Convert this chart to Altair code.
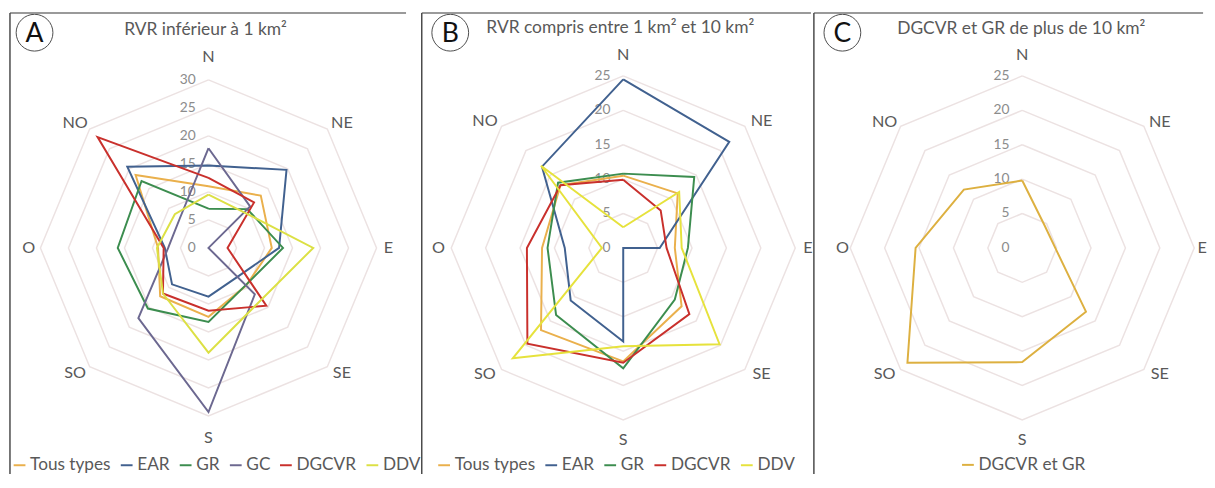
import altair as alt
import pandas as pd

DIRECTIONS = ["N", "NE", "E", "SE", "S", "SO", "O", "NO"]

# ---- Panel A : RVR inférieur à 1 km² ----
A_SERIES = ["Tous types", "EAR", "GR", "GC", "DGCVR", "DDV"]
A_TOUS_TYPES = [11, 13.2, 11.3, 9.5, 12.3, 12.2, 9, 18.4]
A_EAR = [14.7, 19.7, 12.6, 7.3, 8.7, 9.2, 7.8, 20.5]
A_GR = [7, 9.8, 13.3, 9.4, 13.2, 15.3, 16.2, 16.9]
A_GC = [17.8, 10.5, 0, 11.7, 29.3, 17.7, 7.2, 7.3]
A_DGCVR = [12.5, 11.5, 3.4, 14.6, 11.2, 11.5, 8, 28]
A_DDV = [9.5, 9, 18.7, 13.2, 18.7, 11.5, 9.2, 8.5]
A_COLORS = ["#EAB04C", "#41618F", "#3C8D4F", "#6C6890", "#C9302C", "#DCE044"]
A_TICKS = [0, 5, 10, 15, 20, 25, 30]

# ---- Panel B : RVR compris entre 1 km² et 10 km² ----
B_SERIES = ["Tous types", "EAR", "GR", "DGCVR", "DDV"]
B_TOUS_TYPES = [10.5, 11.2, 7.5, 12, 16.5, 16.9, 11.8, 12.9]
B_EAR = [24.5, 21.8, 5.3, 0, 13.6, 10.8, 8.5, 16.7]
B_GR = [10.8, 14.6, 9.4, 10.6, 17.5, 13.8, 11, 13.4]
B_DGCVR = [9.9, 7.7, 6.3, 13.6, 16.7, 19.7, 14, 12.9]
B_DDV = [3, 11.5, 8.5, 19.8, 14.3, 22.7, 3.1, 16.9]
B_COLORS = ["#EAB04C", "#41618F", "#3C8D4F", "#C9302C", "#E6E23C"]
B_TICKS = [0, 5, 10, 15, 20, 25]

# ---- Panel C : DGCVR et GR de plus de 10 km² ----
C_SERIES = ["DGCVR et GR"]
C_DGCVR_GR = [9.8, 4.6, 4.8, 13.1, 16.6, 23.6, 15.5, 12]
C_COLORS = ["#DDB040"]
C_TICKS = [0, 5, 10, 15, 20, 25]

FONT = "Lato"
GRID = "#ECE2E2"
TEXT = "#595959"
H = 469


def radar_panel(names, values, colors, ticks, k, W, cx, cy, lab_r,
                title, title_x, title_y, letter, badge_x, badge_y,
                legend_x, legend_y):
    rows = []
    for name, vals in zip(names, values):
        for i in range(9):
            rows.append({"series": name, "idx": i, "value": vals[i % 8]})
    df = pd.DataFrame(rows)
    grid = pd.DataFrame([{"level": lv, "idx": i}
                         for lv in ticks if lv > 0 for i in range(9)])
    dirs = pd.DataFrame({"dir": DIRECTIONS, "idx": list(range(8))})
    tick_df = pd.DataFrame({"level": ticks})

    xs = alt.Scale(domain=[-cx / k, (W - cx) / k], nice=False, zero=False)
    ys = alt.Scale(domain=[-(H - cy) / k, cy / k], nice=False, zero=False)
    ang = "datum.idx * PI / 4"

    grid_layer = alt.Chart(grid).transform_calculate(
        gx=f"datum.level * sin({ang})", gy=f"datum.level * cos({ang})"
    ).mark_line(color=GRID, strokeWidth=1.5).encode(
        x=alt.X("gx:Q", scale=xs, axis=None),
        y=alt.Y("gy:Q", scale=ys, axis=None),
        detail="level:N", order="idx:Q")

    tick_layer = alt.Chart(tick_df).transform_calculate(zero="0").mark_text(
        align="right", baseline="middle", dx=-13, font=FONT, fontSize=14,
        color="#8C8C8C").encode(
        x=alt.X("zero:Q", scale=xs, axis=None),
        y=alt.Y("level:Q", scale=ys, axis=None),
        text="level:Q")

    line_layer = alt.Chart(df).transform_calculate(
        px=f"datum.value * sin({ang})", py=f"datum.value * cos({ang})"
    ).mark_line(strokeWidth=2).encode(
        x=alt.X("px:Q", scale=xs, axis=None),
        y=alt.Y("py:Q", scale=ys, axis=None),
        color=alt.Color("series:N",
                        scale=alt.Scale(domain=names, range=colors),
                        legend=alt.Legend(
                            title=None, orient="none", legendX=legend_x,
                            legendY=legend_y, direction="horizontal",
                            symbolType="stroke", symbolStrokeWidth=2,
                            symbolSize=144, labelFont=FONT, labelFontSize=17.5,
                            labelColor=TEXT, columnPadding=5, labelOffset=2,
                            padding=0)),
        order="idx:Q")

    # label radii (px): cardinal x, cardinal y, diagonal x, diagonal y
    rxc, ryc, rxd, ryd = [v / k for v in lab_r]
    dir_layer = alt.Chart(dirs).transform_calculate(
        lx=f"(datum.idx % 2 == 1 ? {rxd} : {rxc}) * sin({ang})",
        ly=f"(datum.idx % 2 == 1 ? {ryd} : {ryc}) * cos({ang})"
    ).mark_text(font=FONT, fontSize=16.5, color=TEXT, baseline="middle").encode(
        x=alt.X("lx:Q", scale=xs, axis=None),
        y=alt.Y("ly:Q", scale=ys, axis=None),
        text="dir:N")

    one = pd.DataFrame({"t": [title], "l": [letter]})
    title_layer = alt.Chart(one).mark_text(
        font=FONT, fontSize=17.7, color=TEXT, baseline="middle").encode(
        x=alt.value(title_x), y=alt.value(title_y), text="t:N")
    badge = alt.Chart(one).mark_point(
        shape="circle", size=1400, filled=False, color="#000000",
        strokeWidth=1).encode(x=alt.value(badge_x), y=alt.value(badge_y))
    badge_text = alt.Chart(one).mark_text(
        font=FONT, fontSize=27, color="#111111", baseline="middle").encode(
        x=alt.value(badge_x), y=alt.value(badge_y + 1), text="l:N")

    frame_top = alt.Chart(one).mark_rule(color="#9A9A9A", strokeWidth=2).encode(
        x=alt.value(0), x2=alt.value(W), y=alt.value(0))
    frame_left = alt.Chart(one).mark_rule(color="#4A4A4A", strokeWidth=1.5).encode(
        x=alt.value(0), y=alt.value(0), y2=alt.value(H))

    return alt.layer(grid_layer, tick_layer, line_layer, dir_layer,
                     title_layer, badge, badge_text, frame_top, frame_left
                     ).properties(width=W, height=H)


panel_a = radar_panel(
    A_SERIES, [A_TOUS_TYPES, A_EAR, A_GR, A_GC, A_DGCVR, A_DDV], A_COLORS,
    A_TICKS, 5.7, 403, 202, 239, (183, 194, 192, 180),
    "RVR inférieur à 1 km²", 199, 17, "A", 25, 20, 1, 451)
panel_b = radar_panel(
    B_SERIES, [B_TOUS_TYPES, B_EAR, B_GR, B_DGCVR, B_DDV], B_COLORS,
    B_TICKS, 7.0, 396, 205, 239, (188, 196, 199, 182),
    "RVR compris entre 1 km² et 10 km²", 202, 15, "B", 29, 20, 14, 451)
panel_c = radar_panel(
    C_SERIES, [C_DGCVR_GR], C_COLORS,
    C_TICKS, 7.0, 396, 212, 239, (183, 196, 198, 181),
    "DGCVR et GR de plus de 10 km²", 211, 16, "C", 29, 20, 148, 451)

chart = alt.hconcat(panel_a, panel_b, panel_c, spacing=0).resolve_scale(
    x="independent", y="independent", color="independent"
).properties(
    padding={"left": 1, "top": 0, "right": 0, "bottom": 0},
    background="white",
).configure_view(stroke=None, fill="white")

chart.save("out.html", embed_options={"renderer": "svg", "actions": False})
